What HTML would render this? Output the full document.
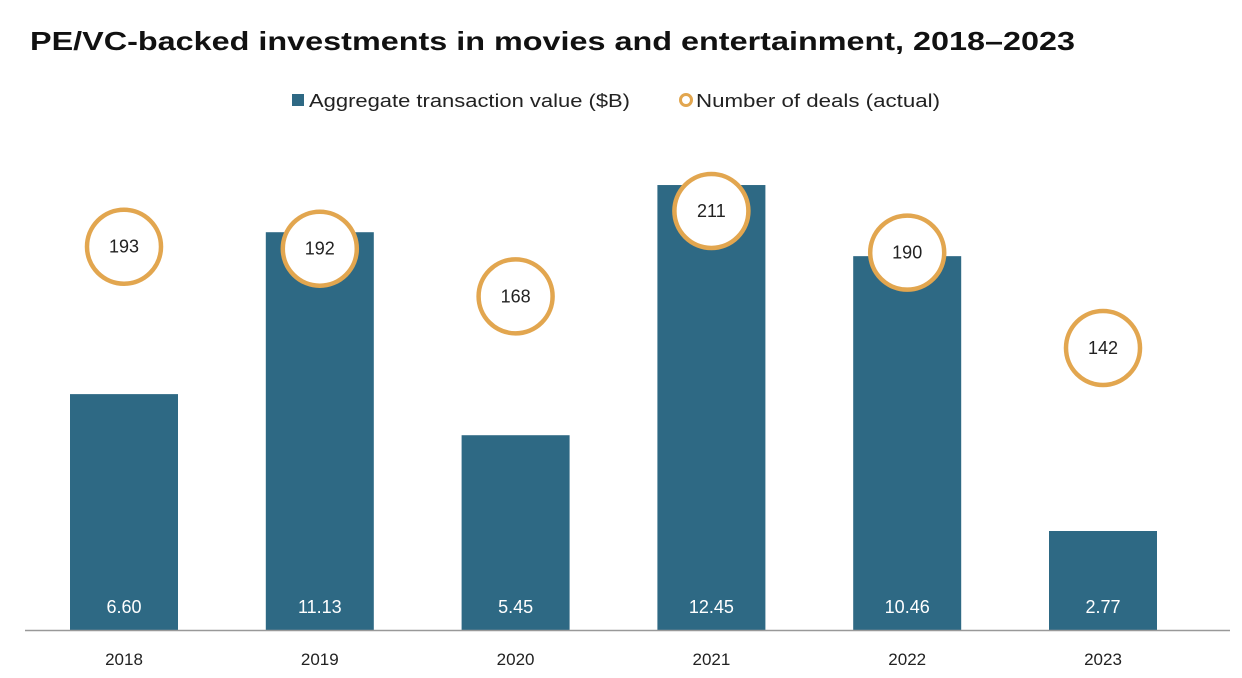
<!DOCTYPE html>
<html><head><meta charset="utf-8"><style>
body{margin:0;background:#fff;font-family:"Liberation Sans",sans-serif;}
svg{display:block}
</style></head><body>
<svg id="chart" width="1242" height="678">
<text x="30" y="50" font-size="26" font-weight="bold" fill="#111" textLength="1045" lengthAdjust="spacingAndGlyphs">PE/VC-backed investments in movies and entertainment, 2018–2023</text>
<g>
<rect x="292" y="94" width="12" height="12" fill="#2E6984"/>
<text x="309" y="107" font-size="18" fill="#222" textLength="321" lengthAdjust="spacingAndGlyphs">Aggregate transaction value ($B)</text>
<circle cx="686" cy="100" r="5.5" fill="none" stroke="#E2A64F" stroke-width="3"/>
<text x="696" y="107" font-size="18" fill="#222" textLength="244" lengthAdjust="spacingAndGlyphs">Number of deals (actual)</text>
</g>
<g id="marks"></g>
<line x1="25" y1="630.5" x2="1230" y2="630.5" stroke="#999" stroke-width="1.5"/>
</svg>
<script>
const categories=["2018","2019","2020","2021","2022","2023"];
const values=[6.60,11.13,5.45,12.45,10.46,2.77];
const valueLabels=["6.60","11.13","5.45","12.45","10.46","2.77"];
const deals=[193,192,168,211,190,142];
const NS="http://www.w3.org/2000/svg";
const g=document.getElementById("marks");
const base=630;
const x=i=>124+i*195.8;
const yVal=v=>base-v*35.74;
const yDeal=v=>base-v*1.986;
function mk(t,a){const e=document.createElementNS(NS,t);for(const k in a)e.setAttribute(k,a[k]);g.appendChild(e);return e;}
categories.forEach((c,i)=>{
 const r=mk("rect",{x:x(i)-54,y:yVal(values[i]),width:108,height:base-yVal(values[i]),fill:"#2E6984"});
 
 
 const vl=mk("text",{x:x(i),y:613,"text-anchor":"middle","font-size":"18",fill:"#fff"});vl.textContent=valueLabels[i];
 
 
 const cl=mk("circle",{cx:x(i),cy:yDeal(deals[i]),r:37,fill:"#fff",stroke:"#E2A64F","stroke-width":4.5});
 
 
 const dl=mk("text",{x:x(i),y:yDeal(deals[i])+6,"text-anchor":"middle","font-size":"18",fill:"#222"});dl.textContent=deals[i];
 
 
 const xl=mk("text",{x:x(i),y:665,"text-anchor":"middle","font-size":"17",fill:"#222"});xl.textContent=c;
 
 
});
</script>
</body></html>
